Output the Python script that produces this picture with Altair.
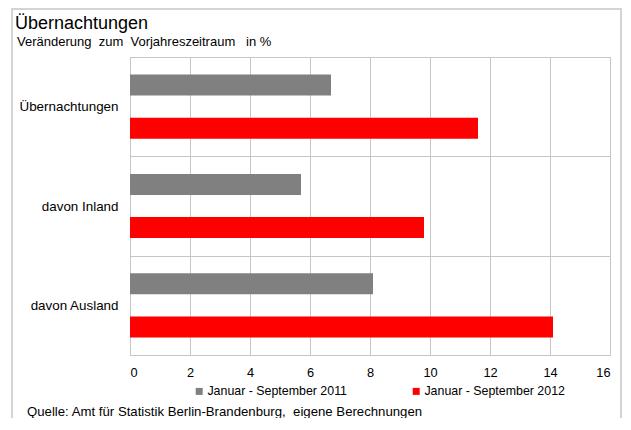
import altair as alt
import pandas as pd

# ---- data ----
categories = ["Übernachtungen", "davon Inland", "davon Ausland"]
series = ["Januar - September 2011", "Januar - September 2012"]
values_2011 = [6.7, 5.7, 8.1]
values_2012 = [11.6, 9.8, 14.1]
x_ticks = [0, 2, 4, 6, 8, 10, 12, 14, 16]

NB = "\u00a0"
title_text = "Übernachtungen"
subtitle_text = f"Veränderung {NB}zum {NB}Vorjahreszeitraum {NB}{NB}in %"
source_text = f"Quelle: Amt für Statistik Berlin-Brandenburg, {NB}eigene Berechnungen"

colors = ["#808080", "#ff0000"]
FONT = "Liberation Sans"

rows = []
for c, a, b in zip(categories, values_2011, values_2012):
    rows.append({"cat": c, "ser": series[0], "val": a})
    rows.append({"cat": c, "ser": series[1], "val": b})
df = pd.DataFrame(rows)

bars = alt.Chart(df).mark_bar().encode(
    y=alt.Y("cat:N", sort=categories,
            scale=alt.Scale(paddingInner=0, paddingOuter=0),
            axis=alt.Axis(title=None, tickBand="extent", ticks=False, domain=False,
                          labelFontSize=13.4, labelPadding=12, labelColor="#000",
                          labelFont=FONT, gridColor="#c6c6c6", grid=True)),
    yOffset=alt.YOffset("ser:N", sort=series,
                        scale=alt.Scale(paddingInner=0.512, paddingOuter=0.407)),
    x=alt.X("val:Q", scale=alt.Scale(domain=[0, 16], nice=False),
            axis=alt.Axis(title=None, values=x_ticks, ticks=False, domain=False,
                          labelFontSize=12.8, labelPadding=11, labelColor="#000",
                          labelFont=FONT, gridColor="#c6c6c6")),
    color=alt.Color("ser:N", sort=series,
                    scale=alt.Scale(domain=series, range=colors),
                    legend=alt.Legend(title=None, orient="none", legendX=63, legendY=328,
                                      direction="horizontal", symbolType="square",
                                      symbolSize=49, symbolStrokeWidth=0,
                                      labelFontSize=12.4, labelFont=FONT, labelColor="#000",
                                      labelOffset=2, columnPadding=63)),
)

def text_layer(txt, x, y, size):
    return alt.Chart(pd.DataFrame({"t": [txt]})).mark_text(
        align="left", baseline="alphabetic", fontSize=size, font=FONT, color="#000"
    ).encode(x=alt.value(x), y=alt.value(y), text="t:N")

frame = alt.Chart(pd.DataFrame({"f": [0]})).mark_rect(
    fill="transparent", stroke="#d4d4d4", strokeWidth=2
).encode(x=alt.value(-118), x2=alt.value(491), y=alt.value(-48), y2=alt.value(420))

chart = alt.layer(
    frame,
    bars,
    text_layer(title_text, -115, -28, 18),
    text_layer(subtitle_text, -113, -11, 13),
    text_layer(source_text, -103, 359, 13.2),
).properties(
    width=480, height=298,
    autosize=alt.AutoSizeParams(type="none"),
    padding={"left": 122, "top": 49, "right": 13, "bottom": 63},
).configure_view(stroke="#c6c6c6", strokeWidth=1)

chart.save("out.html", embed_options={"renderer": "svg", "actions": False})
